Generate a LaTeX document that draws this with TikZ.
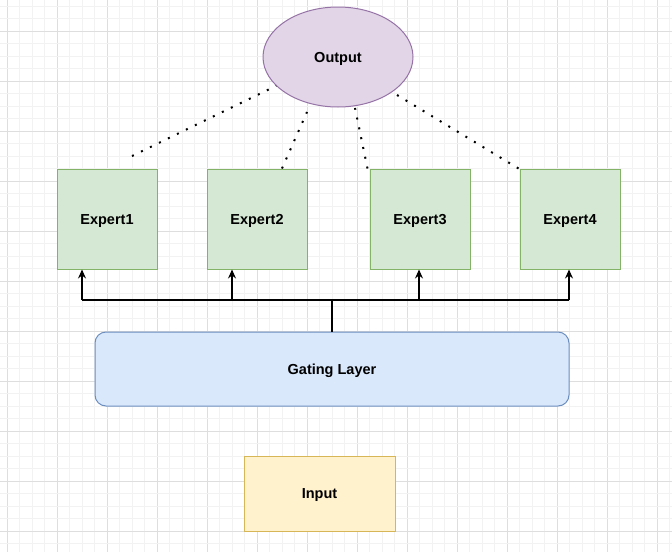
\documentclass[tikz,border=0pt]{standalone}
\usepackage{fontspec}
\setmainfont{Liberation Sans}
\usetikzlibrary{arrows.meta,shapes.geometric}
\definecolor{gridminor}{HTML}{F2F2F2}
\definecolor{gridmajor}{HTML}{DEDEDE}
\definecolor{expfill}{HTML}{D5E8D4}
\definecolor{expline}{HTML}{82B366}
\definecolor{gatefill}{HTML}{DAE8FC}
\definecolor{gateline}{HTML}{6C8EBF}
\definecolor{inpfill}{HTML}{FFF2CC}
\definecolor{inpline}{HTML}{D6B656}
\definecolor{outfill}{HTML}{E1D5E7}
\definecolor{outline}{HTML}{9673A6}
\tikzset{
  lbl/.style={font=\fontsize{14.5}{17}\selectfont\bfseries, text height=10.5pt, text depth=0pt},
  expert/.style={lbl, draw=expline, fill=expfill, line width=1pt, minimum width=100pt, minimum height=100pt},
  gating/.style={lbl, draw=gateline, fill=gatefill, line width=1pt, rounded corners=11pt, minimum width=474pt, minimum height=74pt},
  inbox/.style={lbl, draw=inpline, fill=inpfill, line width=1pt, minimum width=151pt, minimum height=75pt},
  outnode/.style={lbl, ellipse, draw=outline, fill=outfill, line width=1pt, minimum width=150pt, minimum height=100pt},
  feed/.style={line width=1.3pt, -{Stealth[length=9pt,width=8pt,inset=3pt]}},
  dots/.style={line width=2pt, dash pattern=on 2pt off 8pt}
}
\begin{document}
\begin{tikzpicture}[x=1pt,y=-1pt]
\useasboundingbox (0,0) rectangle (672,552);
\fill[white] (0,0) rectangle (672,552);
% background grid
\foreach \k in {0,...,53} {
  \pgfmathsetmacro{\gx}{7+12.5*\k}
  \pgfmathtruncatemacro{\gm}{mod(\k,4)}
  \ifnum\gm=0
    \draw[gridmajor, line width=0.8pt] (\gx,0) -- (\gx,552);
  \else
    \draw[gridminor, line width=0.8pt] (\gx,0) -- (\gx,552);
  \fi
}
\foreach \k in {0,...,43} {
  \pgfmathsetmacro{\gy}{6+12.5*\k}
  \pgfmathtruncatemacro{\gm}{mod(\k+2,4)}
  \ifnum\gm=0
    \draw[gridmajor, line width=0.8pt] (0,\gy) -- (672,\gy);
  \else
    \draw[gridminor, line width=0.8pt] (0,\gy) -- (672,\gy);
  \fi
}
% nodes
\node[outnode] (out) at (338,57) {Output};
\node[expert] (e1) at (107,219) {Expert1};
\node[expert] (e2) at (257,219) {Expert2};
\node[expert] (e3) at (420,219) {Expert3};
\node[expert] (e4) at (570,219) {Expert4};
\node[gating] (gate) at (332,369) {Gating Layer};
\node[inbox] (inp) at (319.5,493.5) {Input};
% gating to experts
\coordinate (bus) at (332,300);
\draw[line width=1.3pt] (gate.north) -- (bus);
\draw[line width=1.3pt] (bus) -- (82,300);
\draw[line width=1.3pt] (bus) -- (569,300);
\draw[feed] (82,300) -- ([xshift=-25pt]e1.south);
\draw[feed] (232,300) -- ([xshift=-25pt]e2.south);
\draw[feed] (419,300) -- ([xshift=-1pt]e3.south);
\draw[feed] (569,300) -- ([xshift=-1pt]e4.south);
% experts to output
\coordinate (d1) at (132,156);
\coordinate (d2) at (307,112);
\coordinate (d3) at (355,108);
\coordinate (d4) at (397,95);
\draw[dots] (d1) -- (out.205);
\draw[dots] ([xshift=25pt]e2.north) -- (d2);
\draw[dots] ([xshift=-2pt]e3.north west) -- (d3);
\draw[dots] ([xshift=-1pt]e4.north west) -- (d4);
\end{tikzpicture}
\end{document}
